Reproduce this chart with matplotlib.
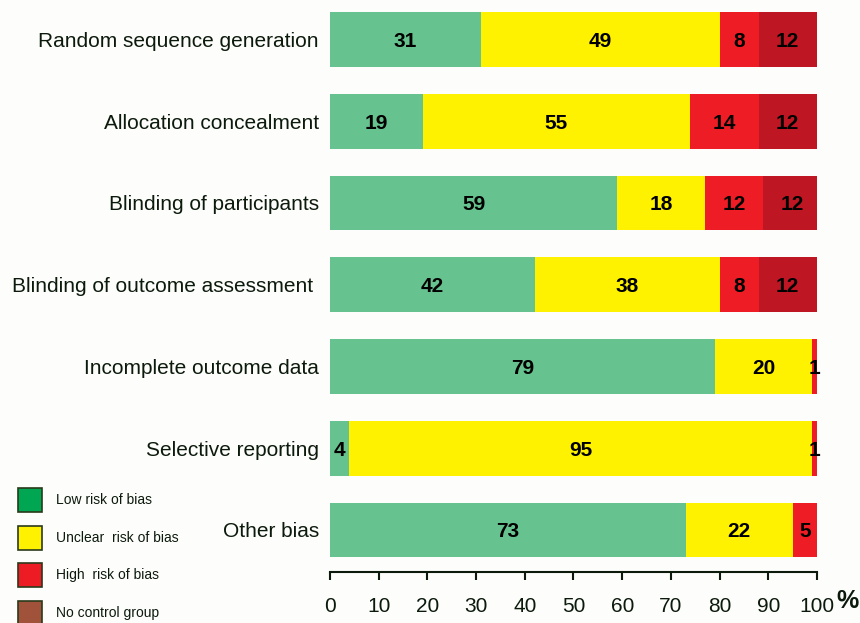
import matplotlib.pyplot as plt
import numpy as np
from matplotlib.patches import Rectangle

plt.rcParams['font.family'] = ['Liberation Sans', 'DejaVu Sans']

domains = ['Random sequence generation', 'Allocation concealment', 'Blinding of participants',
           'Blinding of outcome assessment ', 'Incomplete outcome data', 'Selective reporting',
           'Other bias']
low = [31, 19, 59, 42, 79, 4, 73]
unclear = [49, 55, 18, 38, 20, 95, 22]
high = [8, 14, 12, 8, 1, 1, 5]
no_control = [12, 12, 12, 12, 0, 0, 0]

series = [low, unclear, high, no_control]
bar_colors = ['#66C28E', '#FFF200', '#EE1C25', '#BE1622']
legend_colors = ['#00A651', '#FFF200', '#ED1C24', '#A0523A']
legend_labels = ['Low risk of bias', 'Unclear  risk of bias', 'High  risk of bias', 'No control group']
txt_col = '#0c1a0c'

fig = plt.figure(figsize=(8.6, 6.23), dpi=100, facecolor='#FDFDFB')
ax = fig.add_axes([0.3837, 0.0819, 0.5663, 0.9137])
ax.set_facecolor('#FDFDFB')

y = np.arange(len(domains))
left = np.zeros(len(domains))
for vals, col in zip(series, bar_colors):
    vals = np.array(vals)
    ax.barh(y, vals, left=left, height=0.67, color=col, edgecolor='none')
    for yi, l, v in zip(y, left, vals):
        if v > 0:
            ax.text(l + v / 2, yi, str(v), ha='center', va='center_baseline', fontsize=15,
                    fontweight='bold', color='black')
    left += vals

ax.set_xlim(0, 100)
ax.set_ylim(6.515, -0.45)
ax.set_yticks(y)
ax.set_yticklabels(domains, fontsize=15, color=txt_col)
ax.tick_params(axis='y', length=0, pad=8)
ax.set_xticks(np.arange(0, 101, 10))
ax.tick_params(axis='x', length=6, width=1.5, labelsize=15, labelcolor=txt_col, pad=12,
               color=txt_col)
for s in ['top', 'right', 'left']:
    ax.spines[s].set_visible(False)
ax.spines['bottom'].set_linewidth(1.5)
ax.spines['bottom'].set_color(txt_col)
fig.text(836 / 860, 1 - 601 / 623, '%', fontsize=18, fontweight='bold', color=txt_col,
         ha='left', va='center')

# legend drawn at lower left of the figure
for i, (col, lab) in enumerate(zip(legend_colors, legend_labels)):
    ytop = 488 + i * 37.7
    fig.patches.append(Rectangle((18 / 860, 1 - (ytop + 24) / 623), 24 / 860, 24 / 623,
                                 transform=fig.transFigure, facecolor=col,
                                 edgecolor='#2a3a1a', linewidth=1.2))
    fig.text(56 / 860, 1 - (ytop + 12) / 623, lab, fontsize=10, color=txt_col,
             ha='left', va='center')

fig.savefig('out.png', dpi=100, facecolor=fig.get_facecolor())
